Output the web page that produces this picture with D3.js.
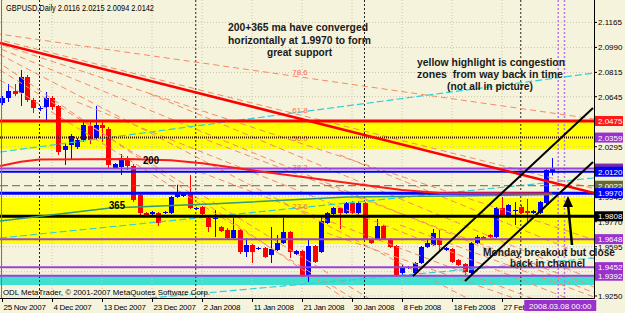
<!DOCTYPE html>
<html lang="en">
<head>
<meta charset="UTF-8">
<title>GBPUSD Daily</title>
<script src="https://cdn.jsdelivr.net/npm/d3@7"></script>
<style>
  body { margin: 0; background: #f5f3dc; }
  svg { display: block; font-family: "Liberation Sans", Arial, sans-serif; }
</style>
</head>
<body>
<div id="chart"></div>
<script>
// ---- data ----
const symbol = "GBPUSD,Daily";

// daily bars, bar 0 = 25 Nov 2007
const open = [
  2.0601,2.0636,2.0685,2.0671,2.0783,2.0622,2.0559,2.0573,2.0636,2.0580,
  2.0272,2.0307,2.0293,2.0342,2.0440,2.0356,2.0447,2.0419,2.0146,2.0153,
  2.0216,2.0160,1.9957,1.9831,1.9824,1.9831,1.9831,1.9831,1.9943,1.9950,
  1.9971,1.9859,1.9873,1.9796,1.9793,1.9733,1.9712,1.9656,1.9712,1.9558,
  1.9607,1.9579,1.9586,1.9537,1.9572,1.9621,1.9698,1.9544,1.9565,1.9390,
  1.9600,1.9558,1.9761,1.9824,1.9866,1.9831,1.9901,1.9831,1.9901,1.9642,
  1.9649,1.9740,1.9649,1.9600,1.9411,1.9446,1.9411,1.9481,1.9593,1.9607,
  1.9656,1.9572,1.9579,1.9502,1.9474,1.9411,1.9621,1.9663,1.9677,1.9663,
  1.9866,1.9810,1.9849,1.9873,1.9845,1.9831,1.9831,1.9901,2.0116
];
const high = [
  2.0650,2.0734,2.0734,2.0832,2.0797,2.0636,2.0580,2.0678,2.0650,2.0587,
  2.0314,2.0384,2.0356,2.0475,2.0475,2.0580,2.0475,2.0433,2.0181,2.0244,
  2.0230,2.0174,1.9971,1.9838,1.9845,1.9838,1.9845,1.9950,2.0027,1.9978,
  2.0097,1.9873,1.9880,1.9803,1.9852,1.9740,1.9726,1.9796,1.9719,1.9656,
  1.9614,1.9593,1.9593,1.9733,1.9677,1.9796,1.9705,1.9572,1.9572,1.9642,
  1.9607,1.9817,1.9838,1.9873,1.9873,1.9908,1.9915,1.9915,1.9908,1.9649,
  1.9789,1.9747,1.9656,1.9607,1.9467,1.9460,1.9488,1.9600,1.9649,1.9719,
  1.9712,1.9593,1.9586,1.9509,1.9481,1.9628,1.9677,1.9670,1.9684,1.9873,
  1.9943,1.9894,1.9908,1.9887,1.9929,1.9852,1.9915,2.0139,2.0215
];
const low = [
  2.0587,2.0608,2.0650,2.0580,2.0608,2.0531,2.0545,2.0482,2.0552,2.0237,
  2.0167,2.0209,2.0279,2.0328,2.0314,2.0342,2.0328,2.0146,2.0139,2.0097,
  2.0132,1.9908,1.9817,1.9810,1.9817,1.9740,1.9824,1.9824,1.9936,1.9943,
  1.9859,1.9852,1.9810,1.9698,1.9663,1.9698,1.9649,1.9649,1.9544,1.9523,
  1.9481,1.9572,1.9516,1.9481,1.9565,1.9614,1.9516,1.9537,1.9383,1.9348,
  1.9481,1.9551,1.9754,1.9817,1.9719,1.9824,1.9824,1.9824,1.9642,1.9614,
  1.9642,1.9642,1.9586,1.9383,1.9397,1.9439,1.9397,1.9474,1.9586,1.9600,
  1.9572,1.9565,1.9481,1.9460,1.9383,1.9404,1.9614,1.9642,1.9656,1.9656,
  1.9810,1.9796,1.9747,1.9824,1.9761,1.9824,1.9824,1.9894,2.0094
];
const close = [
  2.0636,2.0685,2.0664,2.0783,2.0622,2.0566,2.0566,2.0636,2.0573,2.0258,
  2.0300,2.0370,2.0342,2.0447,2.0342,2.0447,2.0426,2.0167,2.0174,2.0216,
  2.0160,1.9922,1.9831,1.9817,1.9838,1.9761,1.9838,1.9943,1.9971,1.9971,
  1.9866,1.9866,1.9824,1.9733,1.9796,1.9705,1.9656,1.9712,1.9558,1.9607,
  1.9558,1.9586,1.9523,1.9579,1.9621,1.9698,1.9558,1.9565,1.9390,1.9600,
  1.9488,1.9775,1.9831,1.9866,1.9831,1.9901,1.9831,1.9901,1.9649,1.9621,
  1.9740,1.9649,1.9593,1.9397,1.9453,1.9453,1.9481,1.9593,1.9621,1.9691,
  1.9607,1.9586,1.9488,1.9467,1.9418,1.9621,1.9663,1.9649,1.9663,1.9866,
  1.9817,1.9887,1.9852,1.9831,1.9831,1.9845,1.9908,2.0132,2.0142
];

const dateLabels = ["25 Nov 2007","4 Dec 2007","13 Dec 2007","23 Dec 2007","2 Jan 2008",
  "11 Jan 2008","21 Jan 2008","30 Jan 2008","8 Feb 2008","18 Feb 2008","27 Feb 2008"];
const dateLabelBars = [0, 8, 16, 24, 32, 40, 48, 56, 64, 72, 80];
const priceTicks = ["2.1165","2.0990","2.0815","2.0645","2.0470","2.0295","2.0120",
  "1.9945","1.9770","1.9595","1.9420","1.9250"];

// horizontal lines and their price labels
const levels = [2.0475, 2.0359, 2.0142, 2.0120, 2.0022, 1.9970, 1.9808, 1.9648, 1.9452, 1.9392];
// congestion zones [low, high]
const yellowZones = [[2.0279, 2.0475], [1.9614, 1.9936]];
const cyanZone = [1.9327, 1.9392];

// month separators and two marked future days (bar index)
const monthSeps = [6, 31, 58, 83];
const markerBars = [89, 90];
const markerLabel = "2008.03.08 00:00";

// moving averages [bar, price]
const ma200 = [[-0.3,2.0160],[3,2.0190],[6,2.0205],[20,2.0209],[27,2.0200],[32,2.0180],
  [42,2.0118],[53,2.0055],[64,1.9992],[70,1.9971],[88,1.9968]];
const ma365 = [[-0.3,1.9775],[17.3,1.9866],[33.3,1.9894],[55.2,1.9943],[71.7,1.9950],[88.2,1.9960]];

// drawn lines [[bar, price], [bar, price]]
const trendRed = [[-0.32, 2.1021], [94.72, 1.9971]];
const channel = [
  [[65.76, 1.9390], [94.56, 2.0566]],
  [[74.08, 1.9355], [94.56, 2.0188]]
];
const cyanLines = [
  [[-0.32, 2.0258], [94.72, 2.0811]],
  [[-0.32, 1.9656], [94.72, 2.0076]],
  [[23.68, 1.9236], [94.72, 1.9516]]
];
const fanOrigin = [-8.96, 2.1137];
const fanBar = 47.68;
const fanLevels = ["78.6", "61.8", "50.0", "38.2", "23.6", ""];
const fanPrices = [2.0783, 2.0517, 2.0321, 2.0118, 1.9845, 1.9446];
const dashLines = [
  [[-0.32, 2.0832], [94.72, 1.8256]],
  [[-0.32, 2.0762], [94.72, 1.8186]],
  [[12.0, 2.0608], [94.72, 1.9159]],
  [[23.68, 2.0664], [94.72, 1.9362]],
  [[32.8, 2.0342], [94.72, 1.9313]],
  [[31.68, 2.0118], [94.72, 1.9068]],
  [[54.08, 2.0237], [94.72, 1.9509]],
  [[52.0, 1.9691], [94.72, 1.9040]],
  [[63.68, 1.9747], [94.72, 1.9243]]
];
const arrow = [[91.2, 1.9607], [90.56, 1.9950]];

// ---- drawing ----
const W = 625, H = 313, plotR = 594, plotB = 298;
const x = d3.scaleLinear().domain([-0.32, 94.72]).range([0, plotR]);
const y = d3.scaleLinear().domain([1.9236, 2.1322]).range([plotB, 0]);

const svg = d3.select("#chart").append("svg").attr("width", W).attr("height", H);
svg.append("rect").attr("width", W).attr("height", H).attr("fill", "#f5f3dc");
svg.append("defs").append("clipPath").attr("id", "plot")
  .append("rect").attr("width", plotR).attr("height", plotB);
const g = svg.append("g").attr("clip-path", "url(#plot)");

// zones
yellowZones.forEach(z => {
  g.append("rect").attr("x", 0).attr("width", plotR)
    .attr("y", y(z[1])).attr("height", y(z[0]) - y(z[1])).attr("fill", "#ffff00");
});
g.append("rect").attr("x", 0).attr("width", plotR)
  .attr("y", y(cyanZone[1])).attr("height", y(cyanZone[0]) - y(cyanZone[1])).attr("fill", "#40e0d0");

// grid
priceTicks.forEach(t => {
  g.append("line").attr("x1", 0).attr("x2", plotR).attr("y1", y(+t)).attr("y2", y(+t))
    .attr("stroke", "#c9c6ad").attr("stroke-dasharray", "1,2");
});
dateLabelBars.forEach(b => {
  g.append("line").attr("x1", x(b)).attr("x2", x(b)).attr("y1", 0).attr("y2", plotB)
    .attr("stroke", "#c9c6ad").attr("stroke-dasharray", "1,2");
});

// period separators and markers
monthSeps.forEach(b => {
  g.append("line").attr("x1", x(b)).attr("x2", x(b)).attr("y1", 0).attr("y2", plotB)
    .attr("stroke", "#222").attr("stroke-dasharray", "2,2");
});
markerBars.forEach(b => {
  g.append("line").attr("x1", x(b)).attr("x2", x(b)).attr("y1", 0).attr("y2", plotB)
    .attr("stroke", "#b878e8").attr("stroke-width", 1.5).attr("stroke-dasharray", "2,2");
});

// candles
open.forEach((o, i) => {
  const c = close[i];
  const col = c >= o ? "#0000ff" : "#ff0000";
  const cx = Math.round(x(i));
  g.append("line").attr("x1", cx + 0.5).attr("x2", cx + 0.5)
    .attr("y1", y(high[i])).attr("y2", y(low[i])).attr("stroke", col);
  const top = y(Math.max(o, c)), bot = y(Math.min(o, c));
  g.append("rect").attr("x", cx - 2).attr("width", 5)
    .attr("y", top).attr("height", Math.max(1, bot - top)).attr("fill", col);
});

// orange dashed lines (fibo fan and others)
const seg = (a, b) => g.append("line")
  .attr("x1", x(a[0])).attr("y1", y(a[1])).attr("x2", x(b[0])).attr("y2", y(b[1]));

dashLines.forEach(l => seg(l[0], l[1])
  .attr("stroke", "#f58a66").attr("stroke-dasharray", "6,4"));
fanPrices.forEach((p, k) => {
  const end = [fanOrigin[0] + 3 * (fanBar - fanOrigin[0]), fanOrigin[1] + 3 * (p - fanOrigin[1])];
  seg(fanOrigin, end).attr("stroke", "#f58a66").attr("stroke-dasharray", "6,4");
  if (fanLevels[k]) {
    g.append("text").attr("x", x(fanBar)).attr("y", y(p) - 2)
      .attr("text-anchor", "middle").attr("font-size", 8).attr("fill", "#ff6a4a")
      .text(fanLevels[k]);
  }
});

// cyan dashed lines
cyanLines.forEach(l => seg(l[0], l[1])
  .attr("stroke", "#30d0d8").attr("stroke-width", 1.2).attr("stroke-dasharray", "7,3"));

// horizontal levels
const levelStyle = [
  { c: "#ff0000", w: 3, box: "#ff1a1a" },
  { c: "#3a0a20", w: 2, dash: "1,1", box: "#9932cc" },
  { c: "#9b40d8", w: 2, box: "#7a2ca8" },
  { c: "#0000ff", w: 2, box: "#0000ff" },
  { c: "#6b6b3a", w: 1, dash: "8,4", box: "#636b33" },
  { c: "#0000ff", w: 3, box: "#0000ff" },
  { c: "#000000", w: 3, box: "#000000" },
  { c: "#9b40d8", w: 2, box: "#9932cc" },
  { c: "#9b40d8", w: 2, box: "#9932cc" },
  { c: "#9b40d8", w: 2, box: "#9932cc" }
];
levels.forEach((p, k) => {
  const s = levelStyle[k];
  g.append("line").attr("x1", 0).attr("x2", plotR).attr("y1", y(p)).attr("y2", y(p))
    .attr("stroke", s.c).attr("stroke-width", s.w).attr("stroke-dasharray", s.dash || null);
});

// moving averages
const line = d3.line().x(d => x(d[0])).y(d => y(d[1]));
g.append("path").datum(ma365).attr("d", line).attr("fill", "none")
  .attr("stroke", "#2e9b7a").attr("stroke-width", 1.5);
g.append("path").datum(ma200).attr("d", line).attr("fill", "none")
  .attr("stroke", "#ff1a1a").attr("stroke-width", 2);

// trend line and channel
seg(trendRed[0], trendRed[1]).attr("stroke", "#ff0000").attr("stroke-width", 2.5);
channel.forEach(l => seg(l[0], l[1]).attr("stroke", "#000").attr("stroke-width", 2));

// arrow
const a0 = [x(arrow[0][0]), y(arrow[0][1])], a1 = [x(arrow[1][0]), y(arrow[1][1])];
g.append("line").attr("x1", a0[0]).attr("y1", a0[1]).attr("x2", a1[0]).attr("y2", a1[1] + 8)
  .attr("stroke", "#000").attr("stroke-width", 2.5);
g.append("path").attr("d", `M${a1[0]},${a1[1]} L${a1[0] - 5},${a1[1] + 11} L${a1[0] + 5},${a1[1] + 11} Z`)
  .attr("fill", "#000");

// frame
svg.append("line").attr("x1", 1.5).attr("x2", 1.5).attr("y1", 0).attr("y2", plotB).attr("stroke", "#777");
svg.append("line").attr("x1", plotR + 0.5).attr("x2", plotR + 0.5).attr("y1", 0).attr("y2", plotB + 0.5).attr("stroke", "#000");
svg.append("line").attr("x1", 0).attr("x2", plotR + 0.5).attr("y1", plotB + 0.5).attr("y2", plotB + 0.5).attr("stroke", "#000");

// price axis: plain labels that a level box fully hides are left out
priceTicks.forEach(t => {
  const yy = y(+t);
  svg.append("line").attr("x1", plotR).attr("x2", plotR + 3).attr("y1", yy).attr("y2", yy).attr("stroke", "#000");
  const hidden = levels.some(p => Math.abs(y(p) - yy) < 3.5);
  if (!hidden) {
    svg.append("text").attr("x", plotR + 4).attr("y", yy + 3).attr("font-size", 8).attr("fill", "#000").text(t);
  }
});
levels.forEach((p, k) => {
  const yy = y(p);
  svg.append("rect").attr("x", plotR + 1).attr("y", yy - 5).attr("width", 28).attr("height", 10)
    .attr("fill", levelStyle[k].box);
  svg.append("text").attr("x", plotR + 4).attr("y", yy + 3).attr("font-size", 8).attr("fill", "#fff")
    .text(p.toFixed(4));
});

// time axis
dateLabelBars.forEach((b, k) => {
  const xx = Math.round(x(b)) + 0.5;
  svg.append("line").attr("x1", xx).attr("x2", xx).attr("y1", plotB).attr("y2", plotB + 4).attr("stroke", "#000");
  svg.append("text").attr("x", xx + 1).attr("y", 310).attr("font-size", 8)
    .attr("letter-spacing", -0.3).attr("fill", "#000").text(dateLabels[k]);
});
const mx = x(markerBars[0]) + 2;
svg.append("rect").attr("x", mx - 36).attr("y", 300).attr("width", 72).attr("height", 11).attr("fill", "#9932cc");
svg.append("text").attr("x", mx).attr("y", 309).attr("text-anchor", "middle")
  .attr("font-size", 8).attr("fill", "#fff").text(markerLabel);

// header and copyright
const n = close.length - 1;
svg.append("text").attr("x", 6).attr("y", 11).attr("font-size", 9).attr("fill", "#000")
  .attr("textLength", 148).attr("lengthAdjust", "spacingAndGlyphs")
  .text(`${symbol}  ${open[n].toFixed(4)} ${high[n].toFixed(4)} ${low[n].toFixed(4)} ${close[n].toFixed(4)}`);
svg.append("text").attr("x", 3).attr("y", 295).attr("font-size", 8).attr("fill", "#000")
  .attr("textLength", 207).attr("lengthAdjust", "spacingAndGlyphs")
  .text("ODL MetaTrader, \u00a9 2001-2007 MetaQuotes Software Corp.");

// annotations
const notes = [
  ["200+365 ma have converged", 298, 31, 140],
  ["horizontally at 1.9970 to form", 299.5, 44, 143],
  ["great support", 299.5, 56, 65],
  ["yellow highlight is congestion", 491, 65.5, 148],
  ["zones  from way back in time", 490, 77.5, 146],
  ["(not all in picture)", 490, 89.5, 86],
  ["Monday breakout but close", 549, 255.5, 132],
  ["back in channel", 547.5, 266.5, 75]
];
notes.forEach(([t, cx, by, w]) => {
  svg.append("text").attr("x", cx).attr("y", by).attr("text-anchor", "middle")
    .attr("font-size", 11.5).attr("font-weight", "bold").attr("fill", "#1a1a1a")
    .attr("textLength", w).attr("lengthAdjust", "spacingAndGlyphs").style("white-space", "pre").text(t);
});
svg.append("text").attr("x", 143).attr("y", 163.5).attr("font-size", 11).attr("font-weight", "bold")
  .attr("textLength", 16).attr("lengthAdjust", "spacingAndGlyphs").text("200");
svg.append("text").attr("x", 109).attr("y", 208.5).attr("font-size", 11).attr("font-weight", "bold")
  .attr("textLength", 16).attr("lengthAdjust", "spacingAndGlyphs").text("365");
</script>
</body>
</html>
